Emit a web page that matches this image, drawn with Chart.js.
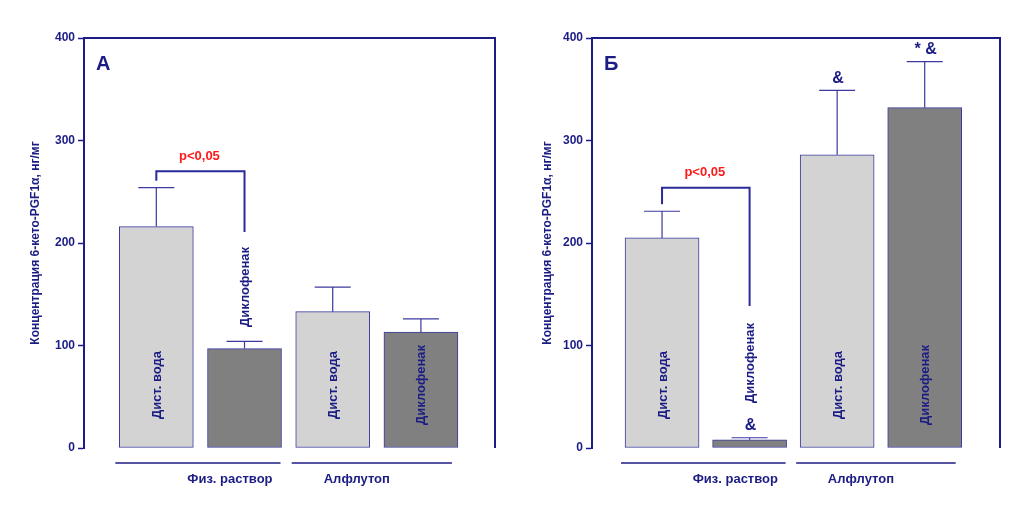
<!DOCTYPE html>
<html><head><meta charset="utf-8">
<script src="https://cdn.jsdelivr.net/npm/chart.js@4.4.0/dist/chart.umd.min.js"></script>
<style>body{margin:0;background:#fff;width:1024px;height:514px;position:relative;overflow:hidden}
canvas{position:absolute;top:0}</style></head><body>
<div style="position:absolute;left:0;top:0;width:512px;height:514px"><canvas id="a"></canvas></div>
<div style="position:absolute;left:512px;top:0;width:512px;height:514px"><canvas id="b"></canvas></div>
<script>
const barPositions = [1, 2, 3, 4];
const barLabels = ['Дист. вода', 'Диклофенак', 'Дист. вода', 'Диклофенак'];
const groupLabels = ['Физ. раствор', 'Алфлутоп'];
const yTicks = [0, 100, 200, 300, 400];
const valuesA = [216, 97, 133, 113];
const errorsA = [38, 7, 24, 13];
const valuesB = [205, 8, 286, 332];
const errorsB = [26, 2, 63, 45];
const marksB = ['', '&', '&', '* &'];
const yTitle = 'Концентрация 6-кето-PGF1α, нг/мг';

const NAVY = '#1c1c85', LIGHT = '#d3d3d3', DARK = '#808080';

function makeChart(id, vals, errs, cfg) {
  const overlay = {
    id: 'ov',
    afterDatasetsDraw(c) {
      const ctx = c.ctx, xs = c.scales.x, ys = c.scales.y, ca = c.chartArea;
      ctx.save();
      ctx.strokeStyle = NAVY; ctx.lineWidth = 2;
      ctx.beginPath(); ctx.moveTo(ca.left, ca.top); ctx.lineTo(ca.right, ca.top); ctx.lineTo(ca.right, ca.bottom); ctx.stroke();
      ctx.lineWidth = 1.2; ctx.strokeStyle = '#3a3aa0';
      vals.forEach((v, i) => {
        const x = xs.getPixelForValue(barPositions[i]);
        const y0 = ys.getPixelForValue(v), y1 = ys.getPixelForValue(v + errs[i]);
        ctx.beginPath(); ctx.moveTo(x, y0); ctx.lineTo(x, y1);
        ctx.moveTo(x - 18, y1); ctx.lineTo(x + 18, y1); ctx.stroke();
      });
      ctx.fillStyle = NAVY; ctx.font = 'bold 13px Arial, "Liberation Sans"';
      ctx.textAlign = 'center'; ctx.textBaseline = 'middle';
      barLabels.forEach((t, i) => {
        const x = xs.getPixelForValue(barPositions[i]) + 1;
        ctx.save(); ctx.translate(x, cfg.labelY[i]); ctx.rotate(-Math.PI / 2);
        ctx.fillText(t, 0, 0); ctx.restore();
      });
      if (cfg.marks) {
        ctx.font = 'bold 16px Arial, "Liberation Sans"';
        cfg.marks.forEach((m, i) => {
          if (!m) return;
          const x = xs.getPixelForValue(barPositions[i]) + 1;
          if (i === 1) { ctx.fillText(m, x, 426); return; }
          ctx.fillText(m, x, ys.getPixelForValue(vals[i] + errs[i]) - 12);
        });
      }
      const bx1 = xs.getPixelForValue(barPositions[0]), bx2 = xs.getPixelForValue(barPositions[1]);
      const bt = ys.getPixelForValue(cfg.bracketTop);
      ctx.strokeStyle = '#2a2a9a'; ctx.lineWidth = 2;
      ctx.beginPath(); ctx.moveTo(bx1, ys.getPixelForValue(vals[0] + errs[0]) - 7); ctx.lineTo(bx1, bt);
      ctx.lineTo(bx2, bt); ctx.lineTo(bx2, cfg.bracketEnd); ctx.stroke();
      ctx.fillStyle = '#ff1a1a'; ctx.font = 'bold 13px Arial, "Liberation Sans"';
      ctx.fillText('p<0,05', (bx1 + bx2) / 2 - 1, bt - 15);
      ctx.strokeStyle = NAVY; ctx.lineWidth = 1.5; ctx.fillStyle = NAVY;
      [[0, 1], [2, 3]].forEach((g, k) => {
        const l = xs.getPixelForValue(barPositions[g[0]]) - 41, r = xs.getPixelForValue(barPositions[g[1]]) + (k === 0 ? 36 : 31);
        ctx.beginPath(); ctx.moveTo(l, ca.bottom + 15); ctx.lineTo(r, ca.bottom + 15); ctx.stroke();
        ctx.fillText(groupLabels[k], k === 0 ? (l + r) / 2 + 32 : (l + r) / 2 - 15, ca.bottom + 31);
      });
      ctx.restore();
    }
  };
  return new Chart(document.getElementById(id), {
    type: 'bar',
    data: { datasets: [{
      data: vals.map((v, i) => ({ x: barPositions[i], y: v })),
      backgroundColor: [LIGHT, DARK, LIGHT, DARK],
      borderColor: '#3a3aa0', borderWidth: 1, borderSkipped: false, barThickness: 74
    }] },
    options: {
      responsive: true, maintainAspectRatio: false, animation: false,
      layout: { padding: { left: 28, top: 38, right: cfg.right, bottom: 66 } },
      plugins: { legend: { display: false }, tooltip: { enabled: false } },
      scales: {
        x: { type: 'linear', offset: false, min: cfg.xmin, max: cfg.xmin + 4.66, display: false },
        y: {
          min: 0, max: 400,
          afterFit(s) { s.width = cfg.axisW - 28; },
          afterBuildTicks(s) { s.ticks = yTicks.map(v => ({ value: v })); },
          ticks: { color: NAVY, font: { family: 'Arial, "Liberation Sans"', weight: 'bold', size: 12 }, padding: 3 },
          grid: { drawOnChartArea: false, color: NAVY, tickLength: 6, tickWidth: 1.5 },
          border: { color: NAVY, width: 2 },
          title: { display: true, text: yTitle, color: NAVY, font: { family: 'Arial, "Liberation Sans"', weight: 'bold', size: 12 }, padding: { top: 0, bottom: 0 } }
        }
      }
    },
    plugins: [overlay, {
      id: 'letter',
      afterDraw(c) {
        const ctx = c.ctx; ctx.save(); ctx.fillStyle = NAVY;
        ctx.font = 'bold 20px Arial, "Liberation Sans"'; ctx.textBaseline = 'middle';
        ctx.fillText(cfg.letter, c.chartArea.left + 12, 64); ctx.restore();
      }
    }]
  });
}

makeChart('a', valuesA, errorsA, { letter: 'А', axisW: 84, right: 17, xmin: 0.18,
  labelY: [385, 287, 385, 385], bracketTop: 270, bracketEnd: 232 });
makeChart('b', valuesB, errorsB, { letter: 'Б', axisW: 80, right: 24, xmin: 0.2,
  labelY: [385, 363, 385, 385], bracketTop: 254, bracketEnd: 306, marks: marksB });
</script></body></html>
